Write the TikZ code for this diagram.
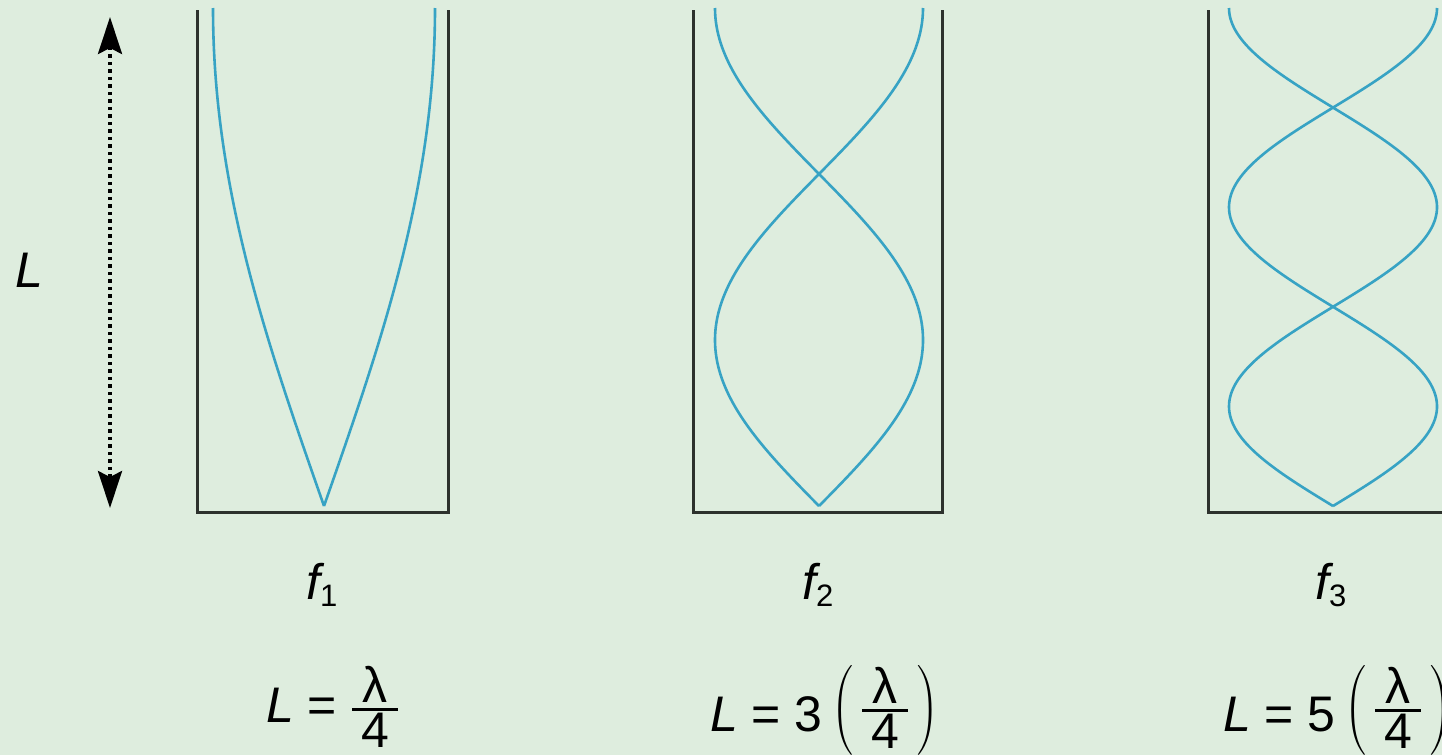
\RequirePackage{fix-cm}
\documentclass[tikz,border=0pt]{standalone}
\usepackage{amsmath}
\usepackage{fontspec}
\setmainfont{Liberation Sans}
\usetikzlibrary{arrows.meta}
\definecolor{bg}{RGB}{222,237,222}
\definecolor{wavec}{RGB}{55,163,196}
\definecolor{wallc}{RGB}{45,50,45}
\newcommand{\lamfrac}{\genfrac{}{}{2.6pt}{1}{\makebox[46pt]{λ}}{\mbox{4}}}
\newcommand{\subnum}[1]{\mbox{\fontsize{31}{34}\selectfont #1}}
\tikzset{
  wall/.style={draw=wallc, line width=3pt},
  wavecurve/.style={draw=wavec, line width=2.6pt},
  dimarrow/.style={black, line width=3.5pt, dash pattern=on 3.5pt off 4pt,
    {Stealth[length=37pt,width=24pt,inset=6pt]}-{Stealth[length=37pt,width=24pt,inset=6pt]}},
  lbl/.style={font=\fontsize{50}{60}\selectfont, inner sep=0pt},
}
\begin{document}
\begin{tikzpicture}[x=1pt,y=-1pt]
\fill[bg] (0,0) rectangle (1442,755);
\useasboundingbox (0,0) rectangle (1442,755);
\clip (0,0) rectangle (1442,755);

% dimension arrow
\coordinate (atop) at (110,17);
\coordinate (abot) at (110,508);
\draw[dimarrow] (atop) -- (abot);
\node[lbl] (Ltxt) at (29,270) {\textit{L}};

% tubes
\draw[wall] (197,10) -- (197,512) -- (448,512) -- (448,10);
\draw[wall] (693,10) -- (693,512) -- (942,512) -- (942,10);
\draw[wall] (1208,10) -- (1208,512) -- (1460,512) -- (1460,10);

% standing waves
\foreach \c/\A/\n in {324/111/1, 819/104/3, 1333/104/5}{
  \pgfmathsetmacro{\k}{\n*90/498}
  \draw[wavecurve] plot[domain=8:506, samples=240, variable=\t]
    ({\c + \A*sin(\k*(506-\t))}, \t);
  \draw[wavecurve] plot[domain=8:506, samples=240, variable=\t]
    ({\c - \A*sin(\k*(506-\t))}, \t);
}

% labels
\node[lbl] (f1) at (322,585) {$\textit{f}_{\subnum{1}}$};
\node[lbl] (f2) at (818,585) {$\textit{f}_{\subnum{2}}$};
\node[lbl] (f3) at (1331,585) {$\textit{f}_{\subnum{3}}$};

\node[lbl, anchor=base west] (eq1) at (266,722)
  {$\textit{L} \mathrel{\mbox{=}} \lamfrac$};
\node[lbl, anchor=base west] (eq2) at (710,731)
  {$\textit{L} \mathrel{\mbox{=}} \mbox{3}\,\raisebox{8pt}{$\left(\,\lamfrac\,\right)$}$};
\node[lbl, anchor=base west] (eq3) at (1223,731)
  {$\textit{L} \mathrel{\mbox{=}} \mbox{5}\,\raisebox{8pt}{$\left(\,\lamfrac\,\right)$}$};
\end{tikzpicture}
\end{document}
